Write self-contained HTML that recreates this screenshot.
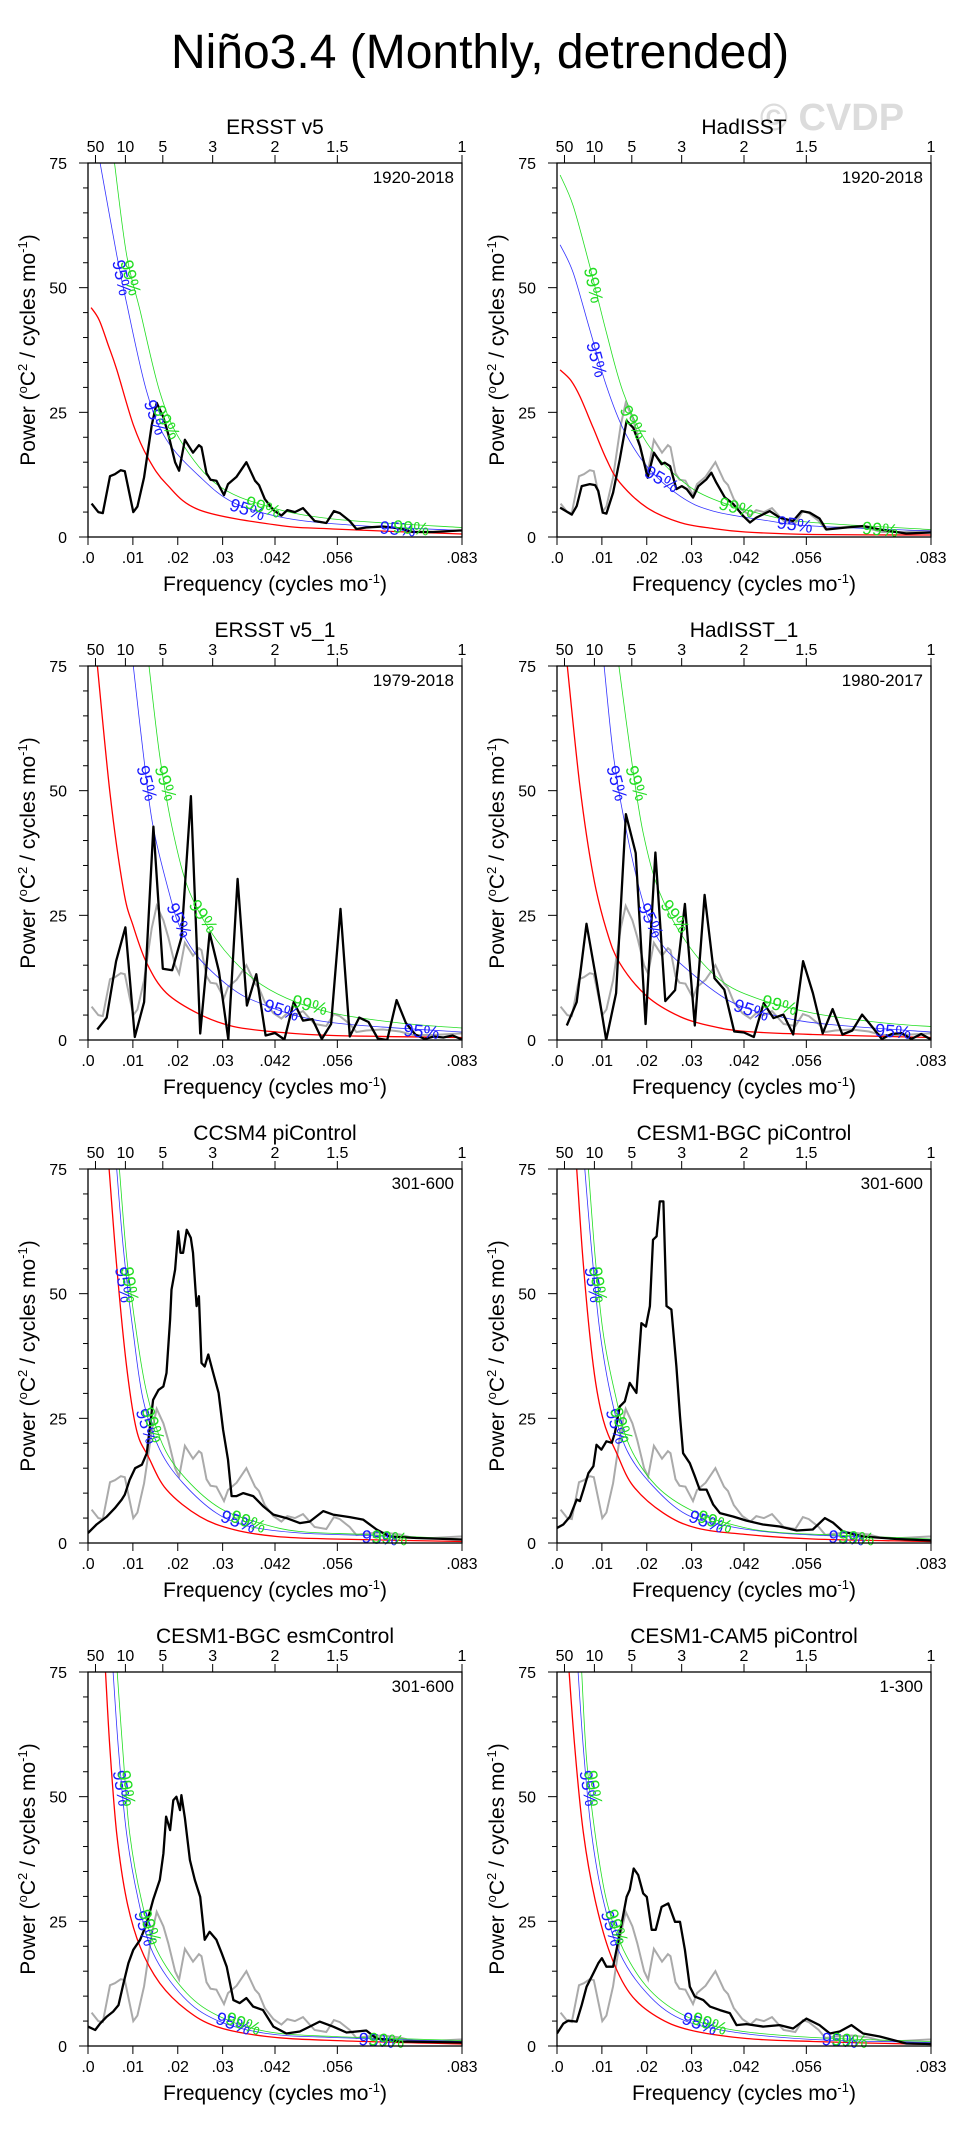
<!DOCTYPE html>
<html><head><meta charset="utf-8">
<style>
html,body{margin:0;padding:0;background:#fff;}
svg{display:block;font-family:"Liberation Sans",Arial,sans-serif;}
</style></head>
<body>
<svg id="chart" width="960" height="2136" viewBox="0 0 960 2136" xmlns="http://www.w3.org/2000/svg">
<rect x="0" y="0" width="960" height="2136" fill="#fff"/>
<text x="480" y="68" text-anchor="middle" font-size="48" fill="#000">Niño3.4 (Monthly, detrended)</text>
<text x="832" y="130" text-anchor="middle" font-size="38" font-weight="bold" fill="#dcdcdc">© CVDP</text>
<g id="panels"></g>
</svg>
<script>
// ---- data (frequency in cycles/mo, power in degC^2/(cycles/mo)) ----
const ersstF = [.0008,.0023,.0033,.0049,.006,.0073,.0082,.0101,.011,.0125,.0142,.0153,.0168,.0179,.0194,.0203,.0216,.0234,.0247,.0253,.0264,.0273,.0286,.0303,.0312,.0331,.0353,.0372,.0381,.0394,.0413,.0431,.0444,.0461,.0479,.0505,.0531,.0548,.0561,.0583,.0598,.062,.0657,.0695,.0724,.0769,.0828,.0833];
const ersstV = [6.7,5,4.8,12.2,12.6,13.4,13.2,5,6.1,12,22.4,26.9,24,20.6,15,13.3,19.5,16.9,18.4,18,12.8,11.5,11.3,8.4,10.6,12.1,15,11.3,10.4,7.6,5.4,4.3,5.4,5,5.8,3.2,2.8,5.2,4.8,3.2,1.6,1.9,2.1,1.7,1,1,1.3,1.3];

const hadF = [.0007,.0033,.0044,.0055,.0073,.0085,.0092,.0102,.011,.0125,.014,.0155,.017,.0185,.0202,.0216,.0233,.024,.0252,.0266,.0278,.0289,.0303,.0315,.0333,.0344,.0355,.0374,.0393,.0415,.043,.0444,.0474,.0496,.0526,.0545,.0563,.0585,.06,.0645,.0682,.0719,.0778,.0833];
const hadV = [5.9,4.5,6.2,10.2,10.6,10.4,9.2,4.9,4.7,8.9,15.6,23.3,21.9,18.2,11.9,16.9,14.6,14.9,14.2,9.6,10.2,9.6,7.9,10.2,11.6,12.9,10.9,7.9,6.6,4.2,2.9,3.9,5.2,3.9,3.2,5.2,4.9,3.7,1.5,1.9,2.2,1.5,0.7,0.9];

const ersst1Step = 1/480;
const ersst1V = [2.1,4.5,15.8,22.6,0.6,7.6,42.8,14.3,14,20.6,48.9,1.3,21.5,13.8,0.1,32.3,6.9,13.2,0.9,1.4,0.1,7.6,3.9,4.2,0.2,3.2,26.3,0.7,4.5,3.6,0.3,0,8,3.4,1.1,0.2,0.7,0.5,0.9,0.1];

const had1Step = 1/456;
const had1V = [2.9,7.6,23.3,12,0,9.4,45.3,37.5,3.2,37.6,7.8,10,27.3,2.9,29.1,12.4,10.1,1.7,1.5,0.6,7.4,4.4,5.1,1.1,15.8,9.4,1.3,6.2,1.1,1.9,5.1,2.7,0.2,1.2,1.4,0.2,1.2,0.1];

const ccsmF = [0,.0019,.0042,.006,.0075,.0082,.0093,.0105,.012,.0131,.0145,.0157,.0168,.0175,.0183,.0186,.0194,.0201,.0206,.0212,.022,.0229,.0234,.0242,.0247,.0253,.026,.0268,.0279,.0291,.0301,.0312,.032,.0331,.0346,.0368,.039,.0413,.0442,.0472,.0494,.0524,.0546,.0583,.0613,.0643,.0672,.0731,.0833];
const ccsmV = [2,3.7,5.3,7,8.7,9.7,12.7,15,15.7,18,28.7,30.7,31.4,34.1,44.8,50.8,54.8,62.5,58.2,58.2,62.8,61.2,58.2,47.5,49.5,36.1,35.4,37.8,34.1,30.1,22.7,16.7,9.4,9.4,10,9.4,7.4,5.7,5,4,4.3,6.4,5.7,5.2,4.7,2.7,1.3,1,0.7];

const bgcF = [0,.0014,.0029,.0044,.0051,.0059,.007,.0081,.0088,.0099,.011,.0122,.0129,.014,.0151,.0162,.0177,.0188,.0198,.0207,.0214,.0222,.0229,.0237,.0244,.0255,.0266,.0274,.0281,.0296,.0307,.0318,.0333,.0348,.0363,.0393,.0422,.0459,.0496,.0534,.057,.0597,.0615,.0637,.0682,.0756,.0833];
const bgcV = [3,3.7,5.3,8.7,8.4,10.7,14,15.4,19.7,18.7,20.4,20.1,22.1,27.4,28.4,32.1,30.1,44.1,43.4,47.5,60.8,61.5,68.5,68.5,47.5,46.8,35.4,25.4,18,16,13.4,10.7,10.7,7.7,6,5.3,4.5,3.7,3.3,2.5,2.7,5,4.1,2.3,1.3,0.8,0.5];

const esmF = [0,.0016,.0027,.0042,.0056,.0068,.0079,.009,.0101,.0116,.0131,.0145,.016,.0168,.0174,.0183,.019,.0197,.0205,.0208,.0216,.0227,.0238,.025,.026,.0271,.0286,.0298,.0309,.0324,.0338,.0353,.0368,.039,.0413,.0442,.0472,.0494,.0516,.0546,.0576,.062,.0643,.0695,.0833];
const esmV = [3.9,3.2,4.5,5.9,6.9,8.2,12.6,16.6,19.3,21.3,24.6,29.3,33.3,38.6,46,43.3,49.3,50,47.3,50.3,45.7,37.3,33.3,29.9,21.3,22.9,21.3,18.6,15.9,9.2,8.6,9.6,7.9,7.2,3.9,2.5,2.9,3.9,4.9,3.9,2.7,3.1,1.5,0.9,0.7];

const cam5F = [0,.0014,.0025,.0044,.0055,.0066,.0081,.0092,.01,.011,.0125,.014,.0155,.0162,.0171,.0181,.0192,.02,.0211,.022,.0233,.0248,.0263,.0274,.0285,.0296,.0307,.0326,.0341,.0363,.0385,.04,.0422,.0459,.0496,.0526,.0556,.0585,.0608,.063,.0656,.0682,.0719,.0778,.0833];
const cam5V = [2.5,4.5,5.1,4.9,8.2,11.9,14.6,16.6,17.6,15.9,15.9,22.6,29.9,31.3,35.6,34.3,30.6,29.9,23.3,23.3,27.9,28.6,24.9,24.9,19.3,11.9,9.9,9.2,7.9,7.2,6.6,4.2,4.4,3.9,4.2,3.5,5.5,4.2,2.5,2.9,4.2,2.5,1.9,0.5,0.4];

// red-noise and significance curves, sampled from the figure
const red1F=[.0007,.0025,.0045,.0064,.0101,.0134,.0175,.0249,.042,.0546,.0833], red1V=[46,43.5,38.5,33.6,22.5,15.8,10.6,5.4,2.4,1.6,0.6];
const b951F=[.0027,.0064,.0086,.0131,.0175,.0249,.0324,.0435,.0583,.0833], b951V=[75,56.6,46.9,29.1,19.5,12.1,6.9,3.9,2.4,1.3];
const g991F=[.0059,.0086,.0116,.016,.0205,.0286,.0398,.0546,.0833], g991V=[75,56.6,45.4,29.1,19.5,10.6,6.2,3.6,1.9];

const red2F=[.0007,.003,.0051,.0081,.011,.014,.02,.0274,.0348,.042,.057,.0833], red2V=[33.5,31.5,28.2,21.8,15.6,10.9,5.9,2.9,1.7,1.0,0.5,0.4];
const b952F=[.0007,.0036,.0073,.011,.0148,.02,.0274,.0348,.0474,.057,.0833], b952V=[58.6,53,41.6,30.3,21.6,14.2,8.2,5.2,3.2,2.2,1.2];
const g992F=[.0007,.0036,.0073,.011,.0148,.02,.0274,.0348,.0474,.057,.0833], g992V=[72.6,66.4,54.3,41,28.9,18.9,11.6,7.6,4.2,2.9,1.5];

const red3F=[.0021,.0049,.0079,.0101,.0131,.0175,.025,.0324,.042,.0546,.0833], red3V=[75,49.5,30.1,22.8,15.4,9.4,5.1,2.7,1.6,0.9,0.5];
const b953F=[.0101,.0123,.0145,.0183,.0208,.025,.0324,.0383,.0472,.0583,.0833], b953V=[75,57.6,42.8,28.8,22,16.1,10.1,7.4,4.7,3.1,1.6];
const g993F=[.0136,.016,.019,.0227,.0286,.0361,.0442,.0546,.0695,.0833], g993V=[75,56.9,41.5,29.5,20.1,12.8,8.4,5.4,3.4,2.4];

const red4F=[.0023,.0051,.0081,.011,.014,.02,.0274,.0348,.0422,.057,.0833], red4V=[75,50.9,32.8,22.1,15.4,8.8,4.7,2.7,1.7,1.1,0.5];
const b954F=[.0105,.0125,.0148,.0188,.0222,.0274,.0385,.0496,.0608,.0833], b954V=[75,57.6,44.9,28.8,20.8,15.4,7.8,4.7,3.1,1.6];
const g994F=[.0138,.0166,.0192,.0229,.0289,.0363,.0444,.057,.0719,.0833], g994V=[75,56.2,41.5,29.5,19.5,12.1,8.4,5.4,3.5,2.7];

const red5F=[.0047,.0064,.0086,.0108,.0134,.0175,.0249,.0324,.042,.0546,.0833], red5V=[75,55.5,35.4,22.7,17.4,10.7,5.3,2.7,1.3,0.8,0.3];
const b955F=[.0064,.0079,.0101,.0123,.016,.0212,.0286,.036,.0472,.062,.0833], b955V=[75,58.8,42.1,28.7,18.7,12,6,3.3,2,1.5,0.7];
const g995F=[.007,.0086,.0108,.0131,.0168,.022,.0294,.0383,.0472,.062,.0833], g995V=[75,57.5,42.1,30.1,19.4,12.7,7,4,2.3,1.7,0.8];

const red6F=[.0044,.0059,.0081,.0103,.0133,.017,.0237,.0311,.0422,.057,.0833], red6V=[75,55.5,35.4,24.7,18,11.4,6,3,1.7,0.8,0.3];
const b956F=[.0062,.0077,.0096,.0122,.0155,.0214,.0289,.0385,.0496,.0645,.0833], b956V=[75,58.8,42.1,28.7,18.7,11.4,5.7,3.3,2,1.3,0.7];
const g996F=[.007,.0085,.0103,.0129,.0162,.0222,.0303,.0407,.0496,.0645,.0833], g996V=[75,57.5,42.1,30.1,19.4,11.4,6.4,3.3,2.1,1.5,0.8];

const red7F=[.0039,.0049,.0064,.0086,.0116,.016,.022,.0286,.0398,.0546,.0833], red7V=[75,59.4,42.6,29.3,19.9,12.6,7.2,3.9,1.9,1.1,0.4];
const b957F=[.0056,.0068,.0086,.0112,.0145,.0212,.0286,.0398,.0546,.0833], b957V=[75,59.4,42.6,29.3,18.6,9.9,5.2,2.5,1.7,0.9];
const g997F=[.0065,.0079,.0093,.0119,.0153,.022,.0294,.0398,.0546,.0833], g997V=[75,57.4,42.6,29.3,19.3,10.6,5.9,2.9,1.9,1.1];

const red8F=[.0027,.004,.0059,.0085,.0118,.0162,.0222,.0296,.0422,.057,.0833], red8V=[75,59.4,42.6,29.3,18.6,10.6,5.9,3.2,1.5,0.9,0.3];
const b958F=[.0047,.0059,.0077,.0103,.014,.02,.0274,.0385,.057,.0833], b958V=[75,59.4,42.6,29.3,18.6,10.6,5.5,2.9,1.3,0.7];
const g998F=[.0055,.0066,.0085,.011,.0148,.0207,.0289,.0393,.057,.0833], g998V=[75,57.4,42.6,29.3,19.3,11.2,5.9,3.2,1.7,0.9];

const periodTicks = [50,10,5,3,2,1.5,1];
const freqTicks = [0,.01,.02,.03,1/24,1/18,1/12];
const freqTickLabels = [".0",".01",".02",".03",".042",".056",".083"];
const powerTicks = [0,25,50,75];

// ---- layout ----
const PW=374, PH=374, FMAX=1/12, VMAX=75;
const colX=[88,557], rowY=[163,666,1169,1672];
const NS="http://www.w3.org/2000/svg";
function el(tag,attrs,parent){const e=document.createElementNS(NS,tag);for(const k in attrs)e.setAttribute(k,attrs[k]);parent.appendChild(e);return e;}
function evenF(step,n){const a=[];for(let i=1;i<=n;i++)a.push(step*i);return a;}

const panels=[
 {name:"ERSST v5",yrs:"1920-2018",obsF:ersstF,obsV:ersstV,gray:false,r:[red1F,red1V],b:[b951F,b951V],g:[g991F,g991V],
  labels:[["95%",0,.0075,52,78],["99%",1,.0095,52,75],["95%",0,.015,24,70],["99%",1,.0175,23,60],["95%",0,.0355,5.5,18],["99%",1,.039,6,18],["95%",0,.069,1.6,5],["99%",1,.072,1.8,5]]},
 {name:"HadISST",yrs:"1920-2018",obsF:hadF,obsV:hadV,gray:true,r:[red2F,red2V],b:[b952F,b952V],g:[g992F,g992V],
  labels:[["99%",1,.0081,50.5,78],["95%",0,.0088,35.6,75],["99%",1,.017,23,60],["95%",0,.0233,11.6,30],["99%",1,.04,5.9,15],["95%",0,.053,2.5,8],["99%",1,.072,1.5,5]]},
 {name:"ERSST v5_1",yrs:"1979-2018",obsF:evenF(ersst1Step,ersst1V.length),obsV:ersst1V,gray:true,r:[red3F,red3V],b:[b953F,b953V],g:[g993F,g993V],
  labels:[["95%",0,.0131,51.5,75],["99%",1,.0173,51.5,72],["95%",0,.0203,24,65],["99%",1,.0257,24.8,55],["95%",0,.0431,6,18],["99%",1,.0494,7,15],["95%",0,.0743,1.7,5]]},
 {name:"HadISST_1",yrs:"1980-2017",obsF:evenF(had1Step,had1V.length),obsV:had1V,gray:true,r:[red4F,red4V],b:[b954F,b954V],g:[g994F,g994V],
  labels:[["95%",0,.0133,51.5,75],["99%",1,.0177,51.5,72],["95%",0,.0209,24,65],["99%",1,.0263,24.8,55],["95%",0,.0433,6,18],["99%",1,.0496,7,15],["95%",0,.0749,1.7,5]]},
 {name:"CCSM4 piControl",yrs:"301-600",obsF:ccsmF,obsV:ccsmV,gray:true,r:[red5F,red5V],b:[b955F,b955V],g:[g995F,g995V],
  labels:[["95%",0,.008,51.8,80],["99%",1,.0093,51.8,80],["95%",0,.0131,23.4,72],["99%",1,.0145,23.7,70],["95%",0,.0335,4.3,20],["99%",1,.0357,4.3,20],["95%",0,.065,1,5],["99%",1,.0672,1,5]]},
 {name:"CESM1-BGC piControl",yrs:"301-600",obsF:bgcF,obsV:bgcV,gray:true,r:[red6F,red6V],b:[b956F,b956V],g:[g996F,g996V],
  labels:[["95%",0,.0081,51.8,80],["99%",1,.0092,51.8,80],["95%",0,.0133,23.4,72],["99%",1,.0144,23.7,70],["95%",0,.0333,4.3,20],["99%",1,.0352,4.3,20],["95%",0,.0645,1,5],["99%",1,.0667,1,5]]},
 {name:"CESM1-BGC esmControl",yrs:"301-600",obsF:esmF,obsV:esmV,gray:true,r:[red7F,red7V],b:[b957F,b957V],g:[g997F,g997V],
  labels:[["95%",0,.0075,51.7,80],["99%",1,.0086,51.7,80],["95%",0,.0127,23.6,72],["99%",1,.0138,23.9,70],["95%",0,.0324,4.5,20],["99%",1,.0346,4.5,20],["95%",0,.0643,1.1,5],["99%",1,.0665,1.1,5]]},
 {name:"CESM1-CAM5 piControl",yrs:"1-300",obsF:cam5F,obsV:cam5V,gray:true,r:[red8F,red8V],b:[b958F,b958V],g:[g998F,g998V],
  labels:[["95%",0,.007,51.7,80],["99%",1,.0081,51.7,80],["95%",0,.0122,23.6,72],["99%",1,.0133,23.9,70],["95%",0,.0318,4.5,20],["99%",1,.034,4.5,20],["95%",0,.063,1.1,5],["99%",1,.0652,1.1,5]]}
];

function smoothPath(pts){
  let d="M"+pts[0][0].toFixed(1)+","+pts[0][1].toFixed(1);
  for(let i=0;i<pts.length-1;i++){
    const p0=pts[Math.max(0,i-1)],p1=pts[i],p2=pts[i+1],p3=pts[Math.min(pts.length-1,i+2)];
    const c1=[p1[0]+(p2[0]-p0[0])/6,p1[1]+(p2[1]-p0[1])/6];
    const c2=[p2[0]-(p3[0]-p1[0])/6,p2[1]-(p3[1]-p1[1])/6];
    d+="C"+c1[0].toFixed(1)+","+c1[1].toFixed(1)+" "+c2[0].toFixed(1)+","+c2[1].toFixed(1)+" "+p2[0].toFixed(1)+","+p2[1].toFixed(1);
  }
  return d;
}

const root=document.getElementById("panels");
panels.forEach((p,i)=>{
  const x0=colX[i%2], y0=rowY[Math.floor(i/2)];
  const xs=f=>x0+f/FMAX*PW, ys=v=>y0+PH-v/VMAX*PH;
  const slug=p.name.toLowerCase().replace(/[^a-z0-9]+/g,"-");
  const g=el("g",{},root);
  
  
  const cid="clip"+i;
  const cp=el("clipPath",{id:cid},g); el("rect",{x:x0,y:y0,width:PW,height:PH},cp);
  const t=el("text",{x:x0+PW/2,y:y0-29,"text-anchor":"middle","font-size":21},g); t.textContent=p.name;
  
  
  const yr=el("text",{x:x0+PW-8,y:y0+20,"text-anchor":"end","font-size":17},g); yr.textContent=p.yrs;
  
  
  const cg=el("g",{"clip-path":"url(#"+cid+")"},g);
  if(p.gray){
    const gp=el("polyline",{points:ersstF.map((f,k)=>xs(f).toFixed(1)+","+ys(ersstV[k]).toFixed(1)).join(" "),fill:"none",stroke:"#aaaaaa","stroke-width":2},cg);
    
    
  }
  [[p.r,"#ff0000",1.3,"red-noise-line"],[p.b,"#3333ff",0.8,"95-percent-line"],[p.g,"#22dd22",0.8,"99-percent-line"]].forEach(([c,col,w,nm])=>{
    const pts=c[0].map((f,k)=>[xs(f),ys(c[1][k])]);
    const pe=el("path",{d:smoothPath(pts),fill:"none",stroke:col,"stroke-width":w},cg);
    
    
  });
  const ob=el("polyline",{points:p.obsF.map((f,k)=>xs(f).toFixed(1)+","+ys(p.obsV[k]).toFixed(1)).join(" "),fill:"none",stroke:"#000","stroke-width":2.3,"stroke-linejoin":"round"},cg);
  
  
  p.labels.forEach(L=>{
    const lx=xs(L[2]), ly=ys(L[3]);
    const lt=el("text",{x:lx,y:ly,"text-anchor":"middle","dominant-baseline":"central","font-size":18,fill:L[1]?"#22dd22":"#1a1aff",transform:"rotate("+L[4]+" "+lx.toFixed(1)+" "+ly.toFixed(1)+")"},g);
    lt.textContent=L[0];
    
    
  });
  const fr=el("rect",{x:x0,y:y0,width:PW,height:PH,fill:"none",stroke:"#000","stroke-width":1.3},g);
  
  
  periodTicks.forEach(P=>{
    const x=xs(1/(12*P));
    el("line",{x1:x,y1:y0,x2:x,y2:y0-8,stroke:"#000","stroke-width":1},g);
    const tl=el("text",{x:x,y:y0-11,"text-anchor":"middle","font-size":16},g); tl.textContent=String(P);
    
    
  });
  freqTicks.forEach((f,k)=>{
    const x=xs(f);
    el("line",{x1:x,y1:y0+PH,x2:x,y2:y0+PH+8,stroke:"#000","stroke-width":1},g);
    const tl=el("text",{x:x,y:y0+PH+26,"text-anchor":"middle","font-size":16},g); tl.textContent=freqTickLabels[k];
    
    
  });
  for(let v=0;v<=75;v+=5){
    const y=ys(v), major=v%25===0;
    el("line",{x1:x0,y1:y,x2:x0-(major?9:5),y2:y,stroke:"#000","stroke-width":1},g);
  }
  powerTicks.forEach(v=>{
    const tl=el("text",{x:x0-21,y:ys(v)+6,"text-anchor":"end","font-size":16},g); tl.textContent=String(v);
    
    
  });
  const xt=el("text",{x:x0+PW/2,y:y0+PH+54,"text-anchor":"middle","font-size":21},g);
  xt.innerHTML='Frequency (cycles mo<tspan dy="-8" font-size="13">-1</tspan><tspan dy="8">)</tspan>';
  
  
  const cx=x0-53, cy=y0+PH/2;
  const yt=el("text",{x:cx,y:cy,"text-anchor":"middle","font-size":21,transform:"rotate(-90 "+cx+" "+cy+")"},g);
  yt.innerHTML='Power (<tspan dy="-8" font-size="13">o</tspan><tspan dy="8">C</tspan><tspan dy="-8" font-size="13">2</tspan><tspan dy="8"> / cycles mo</tspan><tspan dy="-8" font-size="13">-1</tspan><tspan dy="8">)</tspan>';
  
  
});
</script>
</body></html>
